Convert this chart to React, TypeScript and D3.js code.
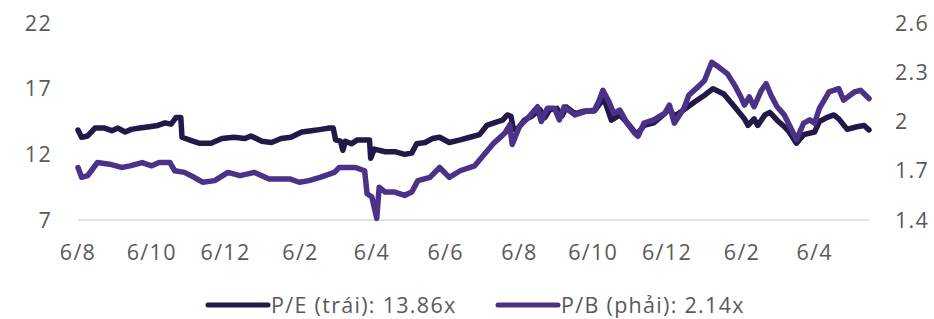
import React, { useRef, useEffect } from 'react';
import * as d3 from 'd3';

const peDates = ['2022-08-06','2022-08-09','2022-08-14','2022-08-20','2022-08-28','2022-09-03','2022-09-08','2022-09-14','2022-09-19','2022-09-26','2022-10-04','2022-10-11','2022-10-17','2022-10-22','2022-10-26','2022-10-30','2022-10-31','2022-11-06','2022-11-14','2022-11-24','2022-12-03','2022-12-13','2022-12-22','2022-12-27','2023-01-05','2023-01-13','2023-01-21','2023-01-29','2023-02-07','2023-02-15','2023-02-23','2023-03-02','2023-03-05','2023-03-07','2023-03-11','2023-03-13','2023-03-15','2023-03-20','2023-03-25','2023-03-31','2023-04-04','2023-04-05','2023-04-08','2023-04-17','2023-04-25','2023-05-03','2023-05-09','2023-05-13','2023-05-20','2023-05-26','2023-06-01','2023-06-09','2023-06-18','2023-06-26','2023-07-04','2023-07-10','2023-07-16','2023-07-23','2023-07-27','2023-07-30','2023-08-01','2023-08-05','2023-08-10','2023-08-16','2023-08-23','2023-08-27','2023-08-31','2023-09-06','2023-09-10','2023-09-14','2023-09-21','2023-09-29','2023-10-07','2023-10-11','2023-10-15','2023-10-21','2023-10-28','2023-11-01','2023-11-05','2023-11-11','2023-11-17','2023-11-25','2023-12-04','2023-12-08','2023-12-12','2023-12-20','2023-12-29','2024-01-06','2024-01-13','2024-01-22','2024-01-31','2024-02-08','2024-02-11','2024-02-16','2024-02-19','2024-02-25','2024-02-29','2024-03-06','2024-03-12','2024-03-16','2024-03-22','2024-03-28','2024-04-06','2024-04-10','2024-04-16','2024-04-22','2024-04-26','2024-05-03','2024-05-11','2024-05-17','2024-05-21'];
const peValues = [13.85,13.3,13.4,14.0,14.0,13.8,14.0,13.7,13.9,14.0,14.1,14.2,14.4,14.3,14.8,14.8,13.3,13.1,12.85,12.85,13.2,13.3,13.2,13.4,13.0,12.9,13.2,13.3,13.7,13.8,13.9,14.0,14.0,13.1,13.0,12.3,13.0,12.8,13.1,13.1,13.1,11.7,12.4,12.2,12.2,12.0,12.1,12.8,12.9,13.2,13.3,12.9,13.1,13.3,13.5,14.2,14.4,14.6,15.0,14.9,13.9,14.0,14.6,14.9,15.4,14.8,15.4,15.5,14.9,15.6,15.1,15.3,15.3,15.8,16.2,14.6,15.0,14.6,14.2,13.5,14.2,14.4,15.1,15.5,14.9,15.4,16.0,16.5,17.0,16.6,15.6,14.7,14.2,14.7,14.2,15.0,15.2,14.6,14.1,13.7,12.85,13.5,13.7,14.5,14.8,15.0,14.7,13.9,14.1,14.2,13.86];

const pbDates = ['2022-08-06','2022-08-09','2022-08-14','2022-08-17','2022-08-22','2022-09-01','2022-09-11','2022-09-18','2022-09-28','2022-10-06','2022-10-12','2022-10-21','2022-10-25','2022-11-02','2022-11-10','2022-11-17','2022-11-27','2022-12-08','2022-12-18','2022-12-30','2023-01-11','2023-01-28','2023-02-05','2023-02-13','2023-02-22','2023-03-06','2023-03-10','2023-03-23','2023-03-31','2023-04-02','2023-04-06','2023-04-10','2023-04-12','2023-04-17','2023-04-25','2023-05-03','2023-05-09','2023-05-14','2023-05-24','2023-06-01','2023-06-09','2023-06-18','2023-06-30','2023-07-08','2023-07-16','2023-07-25','2023-07-29','2023-07-31','2023-08-06','2023-08-14','2023-08-21','2023-08-24','2023-08-29','2023-09-04','2023-09-08','2023-09-12','2023-09-21','2023-09-29','2023-10-07','2023-10-11','2023-10-14','2023-10-19','2023-10-23','2023-10-28','2023-11-03','2023-11-09','2023-11-12','2023-11-17','2023-11-25','2023-12-04','2023-12-08','2023-12-12','2023-12-20','2023-12-24','2024-01-02','2024-01-06','2024-01-12','2024-01-18','2024-01-25','2024-01-31','2024-02-05','2024-02-08','2024-02-12','2024-02-16','2024-02-22','2024-02-26','2024-03-01','2024-03-06','2024-03-12','2024-03-16','2024-03-22','2024-03-28','2024-04-02','2024-04-06','2024-04-10','2024-04-18','2024-04-26','2024-04-30','2024-05-09','2024-05-14','2024-05-21'];
const pbValues = [1.72,1.66,1.67,1.70,1.75,1.74,1.72,1.73,1.75,1.73,1.75,1.75,1.70,1.69,1.66,1.63,1.64,1.69,1.67,1.69,1.65,1.65,1.63,1.64,1.66,1.69,1.72,1.72,1.70,1.56,1.54,1.41,1.60,1.57,1.57,1.55,1.57,1.64,1.66,1.72,1.66,1.70,1.73,1.80,1.87,1.93,1.98,1.86,1.97,2.03,2.09,2.00,2.08,2.08,2.01,2.09,2.04,2.06,2.07,2.13,2.19,2.12,2.05,2.07,1.99,1.93,1.91,1.99,2.01,2.05,2.10,1.99,2.08,2.16,2.22,2.25,2.36,2.33,2.29,2.22,2.15,2.10,2.15,2.09,2.19,2.23,2.16,2.09,2.04,1.98,1.89,1.99,2.01,1.99,2.08,2.18,2.20,2.13,2.18,2.19,2.14];

const xTickDates = ['2022-08-06','2022-10-06','2022-12-06','2023-02-06','2023-04-06','2023-06-06','2023-08-06','2023-10-06','2023-12-06','2024-02-06','2024-04-06'];
const leftTicks = [7, 12, 17, 22];
const rightTicks = [1.4, 1.7, 2, 2.3, 2.6];
const legendLabels = ['P/E (trái): 13.86x', 'P/B (phải): 2.14x'];

const PE_COLOR = '#241848';
const PB_COLOR = '#4b3187';
const TEXT_COLOR = '#595959';
const FONT = '"Open Sans", sans-serif';

export default function App() {
  const ref = useRef<SVGSVGElement>(null);

  useEffect(() => {
    const svg = d3.select(ref.current);
    svg.selectAll('*').remove();
    const parse = d3.timeParse('%Y-%m-%d');

    const x = d3
      .scaleTime()
      .domain([parse('2022-08-06')!, parse('2024-05-21')!])
      .range([78, 869]);
    const yL = d3.scaleLinear().domain([7, 22]).range([220, 23]);
    const yR = d3.scaleLinear().domain([1.4, 2.6]).range([220, 23]);

    // baseline
    svg
      .append('line')
      .attr('x1', 78)
      .attr('x2', 869)
      .attr('y1', yL(7))
      .attr('y2', yL(7))
      .attr('stroke', '#d9d9d9')
      .attr('stroke-width', 1.5);

    const txt = (g: any) =>
      g
        .attr('font-family', FONT)
        .attr('font-size', 21.5)
        .attr('letter-spacing', 1.3)
        .attr('fill', TEXT_COLOR);

    // left axis
    svg
      .append('g')
      .selectAll('text')
      .data(leftTicks)
      .enter()
      .append('text')
      .call(txt)
      .attr('x', 52)
      .attr('y', (d) => yL(d))
      .attr('dy', '0.36em')
      .attr('text-anchor', 'end')
      .text((d) => d);

    // right axis
    svg
      .append('g')
      .selectAll('text')
      .data(rightTicks)
      .enter()
      .append('text')
      .call(txt)
      .attr('x', 895)
      .attr('y', (d) => yR(d))
      .attr('dy', '0.36em')
      .attr('text-anchor', 'start')
      .text((d) => d);

    // x axis
    const fmt = d3.timeFormat('%-d/%-m');
    svg
      .append('g')
      .selectAll('text')
      .data(xTickDates.map((d) => parse(d)!))
      .enter()
      .append('text')
      .call(txt)
      .attr('x', (d) => x(d))
      .attr('y', 260)
      .attr('text-anchor', 'middle')
      .text((d) => fmt(d));

    const pe = peDates.map((d, i) => ({ date: parse(d)!, value: peValues[i] }));
    const pb = pbDates.map((d, i) => ({ date: parse(d)!, value: pbValues[i] }));

    const peLine = d3
      .line<{ date: Date; value: number }>()
      .x((d) => x(d.date))
      .y((d) => yL(d.value));
    const pbLine = d3
      .line<{ date: Date; value: number }>()
      .x((d) => x(d.date))
      .y((d) => yR(d.value));

    svg
      .append('path')
      .datum(pe)
      .attr('d', peLine)
      .attr('fill', 'none')
      .attr('stroke', PE_COLOR)
      .attr('stroke-width', 5.5)
      .attr('stroke-linejoin', 'round')
      .attr('stroke-linecap', 'round');

    svg
      .append('path')
      .datum(pb)
      .attr('d', pbLine)
      .attr('fill', 'none')
      .attr('stroke', PB_COLOR)
      .attr('stroke-width', 5.5)
      .attr('stroke-linejoin', 'round')
      .attr('stroke-linecap', 'round');

    // legend
    const legendX = [208, 498];
    const colors = [PE_COLOR, PB_COLOR];
    legendLabels.forEach((label, i) => {
      const g = svg.append('g').attr('transform', `translate(${legendX[i]},305)`);
      g.append('line')
        .attr('x1', 0)
        .attr('x2', 60)
        .attr('stroke', colors[i])
        .attr('stroke-width', 5)
        .attr('stroke-linecap', 'round');
      g.append('text')
        .call(txt)
        .attr('x', 63)
        .attr('dy', '0.36em')
        .text(label);
    });
  }, []);

  return (
    <svg
      ref={ref}
      width={934}
      height={319}
      style={{ position: 'absolute', left: 0, top: 0, background: '#fff' }}
    />
  );
}
